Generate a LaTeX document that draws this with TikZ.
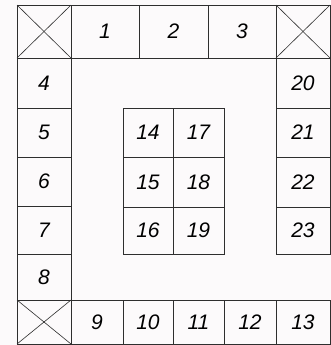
\documentclass[tikz,border=0pt]{standalone}
\usepackage{fontspec}
\newfontfamily\cellfont{Liberation Sans}[ItalicFont={Liberation Sans Italic}]
\definecolor{linec}{HTML}{2E2E2E}
\definecolor{bgc}{HTML}{FCFAFB}
\newcommand{\cellnode}[6]{%
  \node[cellbox, minimum width=#4bp, minimum height=#5bp] (#1) at (#2,#3) {#6};}
\begin{document}
\begin{tikzpicture}[x=1bp, y=-1bp,
  cellbox/.style={draw=linec, line width=0.8pt, inner sep=0pt, outer sep=0pt,
    rectangle, font=\cellfont\itshape\fontsize{21bp}{24bp}\selectfont, text=black},
  crossline/.style={draw=linec, line width=0.6pt}]
\fill[bgc] (0,0) rectangle (331,345);
\useasboundingbox (0,0) rectangle (331,345);
% top row
\cellnode{cxa}{44}{31.5}{54}{53}{}
\cellnode{c1}{105}{31.5}{68}{53}{1}
\cellnode{c2}{173.5}{31.5}{69}{53}{2}
\cellnode{c3}{242}{31.5}{68}{53}{3}
\cellnode{cxb}{303}{31.5}{54}{53}{}
% left column
\cellnode{c4}{44}{83}{54}{50}{4}
\cellnode{c5}{44}{132.5}{54}{49}{5}
\cellnode{c6}{44}{181.5}{54}{49}{6}
\cellnode{c7}{44}{230}{54}{48}{7}
\cellnode{c8}{44}{277}{54}{46}{8}
\cellnode{cxc}{44}{322}{54}{44}{}
% right column
\cellnode{c20}{303}{83}{54}{50}{20}
\cellnode{c21}{303}{132.5}{54}{49}{21}
\cellnode{c22}{303}{182}{54}{50}{22}
\cellnode{c23}{303}{230.5}{54}{47}{23}
% bottom row
\cellnode{c9}{97}{322}{52}{44}{9}
\cellnode{c10}{148}{322}{50}{44}{10}
\cellnode{c11}{198.5}{322}{51}{44}{11}
\cellnode{c12}{250}{322}{52}{44}{12}
\cellnode{c13}{303}{322}{54}{44}{13}
% centre block
\cellnode{c14}{148}{132.5}{50}{49}{14}
\cellnode{c17}{198.5}{132.5}{51}{49}{17}
\cellnode{c15}{148}{182}{50}{50}{15}
\cellnode{c18}{198.5}{182}{51}{50}{18}
\cellnode{c16}{148}{230.5}{50}{47}{16}
\cellnode{c19}{198.5}{230.5}{51}{47}{19}
% crosses
\foreach \n in {cxa,cxb,cxc}{
  \draw[crossline] (\n.north west) -- (\n.south east);
  \draw[crossline] (\n.north east) -- (\n.south west);
}
\end{tikzpicture}
\end{document}
